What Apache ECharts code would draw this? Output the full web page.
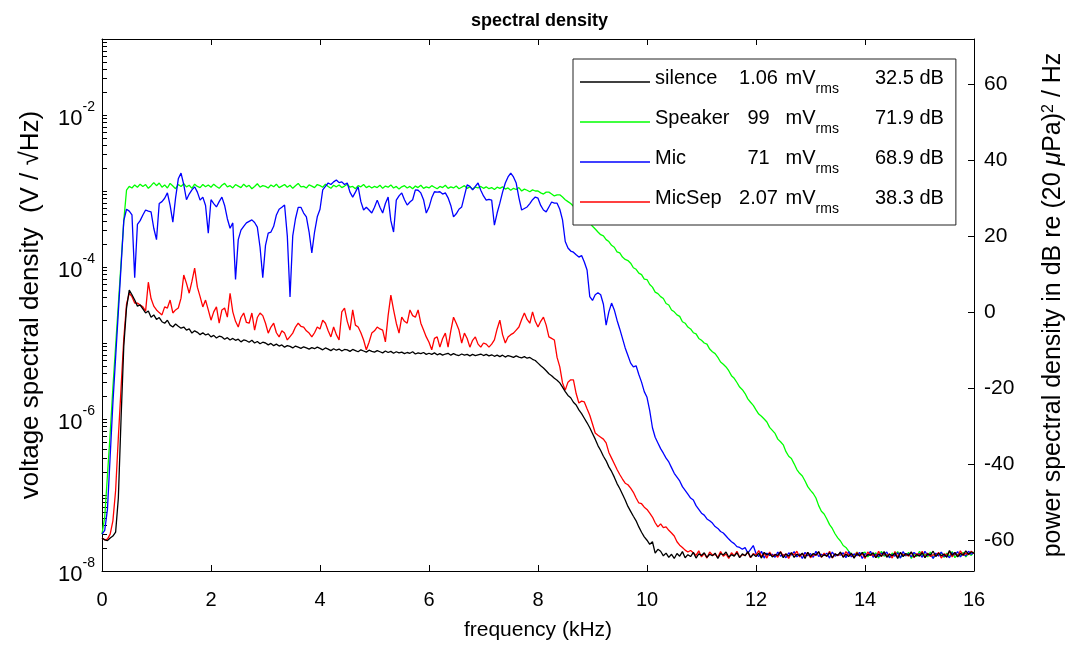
<!DOCTYPE html>
<html>
<head>
<meta charset="utf-8">
<script src="https://cdn.jsdelivr.net/npm/echarts@6/dist/echarts.min.js"></script>
<style>
html,body{margin:0;padding:0;background:#fff;}
#chart{width:1079px;height:648px;}
</style>
</head>
<body>
<div id="chart"></div>
<script>
// ---------------- data ----------------
const FREQ_STEP_KHZ = 0.05;               // spectrum sampled every 50 Hz, 0 .. 16 kHz
const freqTicksKHz = [0, 2, 4, 6, 8, 10, 12, 14, 16];
const dbTickLabels = [-60, -40, -20, 0, 20, 40, 60];
const voltTickLabels = [1e-8, 1e-6, 1e-4, 1e-2];
const legendNames = ['silence', 'Speaker', 'Mic', 'MicSep'];
const rmsMilliVolts = ['1.06', '99', '71', '2.07'];
const levelsDb = ['32.5', '71.9', '68.9', '38.3'];

// power spectral density, dB re (20 uPa)^2/Hz
const speakerDb = [
-58.5,-54,-43,-32,-20,-9,2,13,24,32,33,32.6,33.4,32.8,33.6,33,33.5,32.5,33.2,34,
33.2,33.9,32.8,33.4,32.6,33.8,33.1,32.4,33.5,33.0,33.7,32.9,33.3,32.5,33.6,33.0,32.7,33.5,32.9,33.4,
32.8,33.6,33.0,32.5,33.3,33.8,32.9,33.2,32.6,33.5,33.1,32.7,33.6,32.9,33.3,32.4,33.0,33.7,32.8,33.2,
33.0,32.6,33.4,32.9,33.6,32.7,33.1,33.5,32.8,33.3,32.5,33.2,33.8,32.9,33.0,32.6,33.4,33.1,32.7,33.5,
33.2,32.8,33.6,33.0,32.5,33.3,32.9,33.4,32.7,33.1,33.6,32.8,33.0,32.4,33.2,32.9,33.5,32.7,33.1,32.6,
33.0,32.7,33.3,32.5,33.1,32.8,33.4,32.6,33.0,32.3,32.9,33.2,32.6,33.0,32.4,33.1,32.7,33.3,32.5,32.9,
32.6,33.2,32.8,32.4,33.0,32.7,33.3,32.5,32.9,32.6,33.1,32.4,32.8,33.2,32.5,32.9,32.3,32.8,32.6,33.0,
32.5,32.9,32.4,32.7,32.2,32.8,32.5,32.9,32.3,32.6,32.0,32.5,32.2,32.7,31.8,32.3,32.0,31.6,32.1,31.8,
31.8,31.3,31.0,31.5,31.5,31.0,30.5,30.8,30.8,30.2,29.5,29.0,28.5,27.8,27.0,26.5,26.0,25.2,24.5,23.5,
22.5,21.8,21.0,20.3,20.0,19.0,18.5,17.5,17.0,15.8,15.5,14.4,13.8,13.5,12.8,11.6,11.2,10.2,9.8,8.6,
8.5,7.2,6.5,5.2,4.8,4.0,3.5,2.2,1.8,0.5,0.0,-0.8,-1.2,-2.6,-3.0,-4.0,-4.5,-5.5,-5.8,-7.0,
-7.5,-8.2,-8.5,-9.8,-10.5,-11.0,-12.0,-13.2,-13.8,-14.5,-15.5,-16.8,-17.5,-18.6,-19.8,-20.5,-21.5,-22.9,-23.8,-24.6,
-25.8,-26.9,-27.5,-28.2,-29.0,-30.4,-31.2,-32.0,-33.5,-34.2,-35.0,-36.8,-38.0,-38.6,-40.0,-41.5,-42.5,-43.2,-44.5,-46.0,
-47.0,-47.8,-49.0,-51.0,-52.5,-53.2,-54.5,-56.0,-57.0,-58.4,-59.5,-60.3,-61.5,-62.0,-63.0,-63.8,-64.5,-63.2,-64.0,-63.5,
-63.2,-64.5,-63.7,-64.1,-63.4,-64.8,-63.0,-64.3,-63.9,-64.6,
-63.5,-64.0,-63.1,-64.7,-63.8,-64.2,-63.3,-64.9,-63.6,-64.4,
-63.0,-64.1,-63.7,-64.5,-63.2,-64.8,-63.9,-64.0,-63.4,-64.6,
-63.5,-64.3,-63.1,-64.7,-63.8,-64.2,-63.3,-64.5,-63.6,-64.1,
-63.2
];

const micDb = [
-58.5,-57.5,-52,-38,-24,-12,0,12,24,27,26.5,25.5,9,23,24,25.5,26.8,26.5,26.3,22,
19,28.5,29,29.9,31.3,28,23.6,30,35,36.5,33.5,29.5,31,32.1,32.9,31.5,29.4,30.2,28,20.7,
29.5,28.5,27.6,29,30.2,28,24.5,22,23.4,8.5,19,21.5,22.5,23.4,23.8,24.2,23.5,22.3,17,9,
17.5,20.7,21,22.5,25.5,27,27.5,28.1,20,3.9,20,24.5,27.5,27.5,26,25,21,15.5,21,25,
27,32.1,33,33.9,33.5,34.2,34.7,34,34.2,33.5,33.9,31.5,30.2,31.5,32.9,29,26.8,27.5,26.8,26,
27.5,29.4,27.5,26,28.5,30.2,24,21,29.4,30.5,31.3,29.5,28.1,28.9,29.5,32.1,32,31.3,29.5,26,
27.5,30,31.6,31.5,31.6,31,31.3,30,28,25,25.8,27,27.6,30.5,33.4,33,32.1,33,33.9,32,
30.5,29.4,29.6,29.4,22.8,26,28.6,31.5,33.9,35.5,36.5,35.5,33.9,30,26.8,27.2,27.6,28.5,29.5,30.2,
29.9,28,26.8,26.3,27.6,28.9,28.6,28.6,27,24.2,18.5,16.8,16,15.7,15,14.4,14.8,13.1,11,4,
3,4.5,5,4.5,2,-3.5,0,2.3,0.5,-2.2,-4.5,-7,-9.5,-11.5,-13.5,-14.5,-14.2,-16.5,-18.5,-21,
-22.5,-26,-30.5,-33,-34.5,-36,-37.2,-38.5,-39.5,-41,-42.5,-43.5,-44.5,-46,-47,-48,-49,-49.5,-51,-52,
-53,-53.5,-54.5,-55,-55.6,-56.5,-57,-57.8,-58.2,-59,-59.8,-60.5,-61,-61.8,-62,-62.5,-62,-63.5,-62.5,-61.5,
-63.6,-64.4,-63.0,-64.8,-63.5,-64.1,-63.8,-64.6,-63.2,-64.3,
-63.9,-64.7,-63.4,-64.0,-63.1,-64.5,-63.7,-64.9,-63.3,-64.2,
-63.6,-64.6,-63.0,-64.4,-63.8,-64.1,-63.5,-64.8,-63.2,-64.3,
-63.9,-64.0,-63.4,-64.7,-63.1,-64.5,-63.7,-64.2,-63.3,-64.9,
-63.6,-64.1,-63.0,-64.6,-63.8,-64.4,-63.5,-64.0,-63.2,-64.7,
-63.9,-64.3,-63.4,-64.8,-63.1,-64.2,-63.7,-64.5,-63.3,-64.0,
-63.6,-64.6,-63.0,-64.1,-63.8,-64.9,-63.5,-64.3,-63.2,-64.4,
-63.9,-64.7,-63.4,-64.0,-63.1,-64.5,-63.7,-64.2,-63.0,-63.8,
-63.4
];

const micSepDb = [
-59.5,-60,-59.8,-58.5,-55,-47,-33,-20,-7,2,4.9,4.0,2.3,2.3,1.8,1.3,0.2,7.8,3.5,1.5,
0.5,-0.2,-0.8,1.3,1.0,3.1,-0.3,0.5,1.0,3.6,9.7,7.5,4.9,8.0,11.5,6.5,4.0,1.3,3.1,0.5,
-2.2,0.0,1.3,-3.0,0.5,1.0,-1.4,4.9,0.0,-2.5,-4.0,-1.5,-0.3,-2.8,-3.0,-0.3,-4.8,-1.5,-0.3,-1.0,
-3.0,-5.6,-4.0,-3.0,-5.5,-6.6,-5.0,-5.6,-7.4,-6.5,-5.6,-4.0,-3.0,-3.8,-4.0,-5.0,-5.6,-6.6,-5.5,-4.0,
-4.5,-2.2,-3.0,-5.0,-6.6,-4.0,-6.0,-7.4,0.0,1.0,-2.5,-4.8,0.5,-3.5,-4.0,-5.5,-7.4,-10.0,-8.0,-5.6,
-5.0,-4.0,-4.5,-4.8,-7.9,-1.0,4.4,0.5,-3.0,-5.6,-1.4,-2.5,-3.0,0.5,-1.0,-1.4,0.5,-3.0,-4.8,-6.6,
-8.0,-10.0,-7.0,-6.6,-9.3,-7.0,-5.6,-9.3,-5.0,-1.4,-3.0,-4.8,-8.2,-5.6,-7.0,-9.3,-7.5,-6.6,-8.5,-9.3,
-8.2,-8.5,-9.3,-8.5,-7.4,-4.5,-2.2,-6.0,-8.2,-6.6,-6.0,-5.6,-4.8,-4.0,-2.0,-0.3,-2.0,-3.0,0.0,-2.5,
-4.0,-2.5,-1.4,-3.5,-6.6,-7.0,-7.4,-12.0,-14.5,-18.7,-20.6,-18.5,-17.9,-17.9,-21.5,-24.0,-23.5,-23.7,-25.5,-27.2,
-29.5,-31.9,-32.5,-33.0,-33.5,-34.5,-37.0,-38.5,-40.0,-41.5,-42.8,-44.0,-45.1,-45.5,-46.4,-47.5,-49.0,-50.3,-50.5,-51.4,
-52.0,-53.0,-54.0,-55.5,-56.6,-55.8,-56.8,-56.6,-57.5,-58.2,-59.0,-60.5,-61.4,-62.0,-62.7,-63.2,-62.8,
-63.4,-64.1,-62.9,-64.5,-63.6,-64.8,-63.2,-64.0,-63.8,-64.6,
-63.1,-64.3,-63.7,-64.9,-63.4,-64.2,-63.0,-64.5,-63.9,-64.1,
-63.3,-64.7,-63.6,-64.0,-62.8,-64.4,-63.5,-64.8,-63.2,-64.3,
-63.8,-64.6,-63.1,-64.2,-63.7,-64.9,-63.4,-64.0,-63.0,-64.5,
-63.6,-64.3,-63.3,-64.7,-63.9,-64.1,-63.2,-64.6,-63.5,-64.4,
-63.0,-64.8,-63.7,-64.2,-63.4,-64.5,-63.1,-64.0,-63.8,-64.7,
-63.3,-64.3,-63.6,-64.9,-63.2,-64.1,-63.9,-64.6,-63.0,-64.4,
-63.5,-64.2,-63.7,-64.8,-63.1,-64.5,-63.4,-64.0,-63.8,-64.3,
-63.2,-64.7,-63.6,-64.1,-63.0,-64.6,-63.5,-64.4,-63.9,-64.2,
-63.3,-64.8,-63.7,-64.0,-63.1,-64.5,-63.4,-64.3,-62.9,-64.1,
-63.5,-63.9,-63.0,-63.6
];

const silenceDb = [
-59.5,-60.0,-60.2,-59.5,-59.0,-58.0,-49.0,-28.0,-9.0,1.0,5.7,4.5,3.1,1.5,1.8,0.8,-0.3,0.2,-1.4,-0.8,
-2.0,-1.5,-2.6,-3.0,-2.2,-3.5,-4.0,-3.2,-3.8,-4.3,-4.0,-4.8,-4.5,-5.6,-5.0,-5.4,-6.0,-5.5,-6.1,-5.8,
-6.6,-6.2,-6.9,-6.4,-6.6,-7.2,-6.8,-7.4,-7.0,-7.5,-7.2,-7.9,-7.4,-7.6,-8.0,-7.5,-8.2,-7.8,-8.4,-8.0,
-8.2,-8.7,-8.3,-8.9,-8.5,-9.0,-8.7,-9.3,-8.9,-9.1,-9.5,-9.0,-9.3,-9.6,-9.2,-9.5,-9.8,-9.4,-9.7,-9.3,
-9.6,-10.0,-9.5,-9.8,-10.2,-9.7,-10.1,-9.8,-10.3,-9.9,-10.0,-10.4,-9.9,-10.2,-10.5,-10.0,-10.3,-10.6,-10.1,-10.4,
-10.6,-10.2,-10.5,-10.8,-10.3,-10.7,-10.4,-10.9,-10.5,-10.8,-10.6,-11.0,-10.7,-10.9,-10.5,-11.1,-10.8,-11.0,-10.7,-11.2,
-10.9,-11.2,-10.8,-11.3,-11.0,-11.4,-11.1,-10.9,-11.4,-11.0,-11.3,-11.5,-11.1,-11.4,-11.2,-11.6,-11.2,-11.5,-11.3,-11.1,
-11.5,-11.2,-11.6,-11.3,-11.7,-11.4,-11.8,-11.4,-11.9,-11.5,-11.7,-12.0,-11.6,-11.9,-12.1,-11.8,-12.2,-12.0,-12.5,-12.8,
-13.5,-14.2,-14.8,-15.5,-16.3,-16.8,-17.5,-18.0,-18.7,-19.8,-21.0,-22.0,-22.6,-23.8,-24.5,-25.8,-26.8,-28.0,-29.2,-30.5,
-32.0,-33.5,-35.2,-36.5,-38.0,-39.2,-40.8,-42.0,-43.5,-45.2,-46.5,-48.0,-49.5,-51.2,-52.5,-53.8,-55.0,-56.6,-58.0,-59.2,
-60.1,-61.2,-60.5,-63.5,-62.5,
-63.0,-64.2,-63.5,-64.6,-63.8,-64.9,-63.6,-64.3,-63.1,-64.7,
-63.9,-64.4,-63.3,-64.8,-63.7,-64.1,-63.4,-64.6,-63.8,-64.2,
-63.5,-64.9,-63.6,-64.0,-63.2,-64.5,-63.9,-64.3,-63.4,-64.7,
-63.7,-64.2,-63.1,-64.6,-63.8,-64.4,-63.5,-64.8,-63.3,-64.0,
-63.6,-64.5,-63.9,-64.1,-63.2,-64.7,-63.7,-64.3,-63.4,-64.6,
-63.8,-64.2,-63.5,-64.9,-63.3,-64.4,-63.6,-64.0,-63.1,-64.5,
-63.9,-64.3,-63.4,-64.7,-63.7,-64.1,-63.2,-64.6,-63.8,-64.4,
-63.5,-64.8,-63.6,-64.2,-63.3,-64.5,-63.9,-64.0,-63.4,-64.7,
-63.7,-64.3,-63.1,-64.6,-63.8,-64.2,-63.5,-64.9,-63.3,-64.4,
-63.6,-64.1,-63.2,-64.5,-63.9,-64.3,-63.4,-64.7,-63.7,-64.0,
-63.0,-64.4,-63.5,-64.2,-63.8,-64.6,-62.8,-64.1,-63.3,-64.5,
-63.6,-64.0,-62.9,-63.8,-63.2,-63.5
];

// ---------------- chart ----------------
const FONT = '"Liberation Sans", Arial, Helvetica, sans-serif';
const toPairs = arr => arr.map((v, i) => [Math.round(i * FREQ_STEP_KHZ * 100) / 100, v]);

// log-axis ticks: 1..9 x 10^n
const logTicks = [];
for (let e = -8; e <= -2; e++) {
  for (let m = 1; m <= 9; m++) logTicks.push(m * Math.pow(10, e));
}
logTicks.push(1e-1);

const seriesDefs = [
  { name: 'Speaker', data: speakerDb, color: '#00ff00' },
  { name: 'Mic', data: micDb, color: '#0000ff' },
  { name: 'MicSep', data: micSepDb, color: '#ff0000' },
  { name: 'silence', data: silenceDb, color: '#000000' }
];

const chart = echarts.init(document.getElementById('chart'), null, { renderer: 'canvas' });

const option = {
  animation: false,
  backgroundColor: '#fff',
  textStyle: { fontFamily: FONT },
  title: {
    text: 'spectral density',
    left: 'center',
    top: 7,
    textStyle: { fontFamily: FONT, fontSize: 18, fontWeight: 'bold', color: '#000' }
  },
  grid: { left: 102, top: 39, width: 872, height: 532, containLabel: false },
  legend: {
    data: legendNames,
    orient: 'vertical',
    left: 573,
    top: 59,
    selectedMode: false,
    backgroundColor: '#fff',
    borderColor: '#222',
    borderWidth: 1,
    padding: [9, 12, 9, 7],
    itemGap: 12,
    itemWidth: 70,
    itemHeight: 14,
    itemStyle: { borderWidth: 0 },
    icon: 'path://M0,0 L70,0 L70,1.3 L0,1.3 Z',
    formatter: function (name) {
      const i = legendNames.indexOf(name);
      return '{n|' + name + '}{v|' + rmsMilliVolts[i] + '}{u| mV}{r|rms}{d|' + levelsDb[i] + ' dB}';
    },
    textStyle: {
      fontFamily: FONT,
      color: '#000',
      rich: {
        n: { fontFamily: FONT, fontSize: 20, color: '#000', width: 82, align: 'left', verticalAlign: 'top' },
        v: { fontFamily: FONT, fontSize: 20, color: '#000', width: 43, align: 'right', verticalAlign: 'top' },
        u: { fontFamily: FONT, fontSize: 20, color: '#000', verticalAlign: 'top' },
        r: { fontFamily: FONT, fontSize: 14, color: '#000', verticalAlign: 'bottom', lineHeight: 28 },
        d: { fontFamily: FONT, fontSize: 20, color: '#000', width: 105, align: 'right', verticalAlign: 'top' }
      }
    }
  },
  xAxis: [
    {
      type: 'value', min: 0, max: 16, interval: 2, position: 'bottom',
      axisLine: { show: true, onZero: false, lineStyle: { color: '#000', width: 1 } },
      axisTick: { show: true, inside: true, length: 6, lineStyle: { color: '#000' } },
      axisLabel: { fontFamily: FONT, fontSize: 20, color: '#000', margin: 19,
        customValues: freqTicksKHz },
      splitLine: { show: false },
      name: 'frequency (kHz)', nameLocation: 'middle', nameGap: 49,
      nameTextStyle: { fontFamily: FONT, fontSize: 21, color: '#000' }
    },
    {
      type: 'value', min: 0, max: 16, interval: 2, position: 'top',
      axisLine: { show: true, onZero: false, lineStyle: { color: '#000', width: 1 } },
      axisTick: { show: true, inside: true, length: 6, lineStyle: { color: '#000' } },
      axisLabel: { show: false },
      splitLine: { show: false }
    }
  ],
  yAxis: [
    {
      type: 'log', logBase: 10, min: 1e-8, max: 1e-1, position: 'left',
      axisLine: { show: true, lineStyle: { color: '#000', width: 1 } },
      axisTick: { show: true, inside: true, length: 5, customValues: logTicks, lineStyle: { color: '#000' } },
      minorTick: { show: false },
      axisLabel: {
        customValues: voltTickLabels,
        margin: 7,
        formatter: function (v) {
          return '{b|10}{s|' + Math.round(Math.log10(v)) + '}';
        },
        rich: {
          b: { fontFamily: FONT, fontSize: 22, color: '#000', verticalAlign: 'bottom', lineHeight: 30 },
          s: { fontFamily: FONT, fontSize: 14, color: '#000', verticalAlign: 'top', lineHeight: 14 }
        }
      },
      splitLine: { show: false },
      name: 'voltage spectral density  (V / √Hz)', nameLocation: 'middle', nameGap: 58, nameRotate: 90,
      nameTextStyle: { fontFamily: FONT, fontSize: 26, color: '#000' }
    },
    {
      type: 'value', min: -68.2, max: 71.8, position: 'right',
      axisLine: { show: true, onZero: false, lineStyle: { color: '#000', width: 1 } },
      axisTick: { show: true, inside: true, length: 6, customValues: dbTickLabels, lineStyle: { color: '#000' } },
      axisLabel: { customValues: dbTickLabels, fontFamily: FONT, fontSize: 21, color: '#000', margin: 10 },
      splitLine: { show: false },
      name: 'power spectral density in dB re (20 {i|μ}Pa){p|2} / Hz',
      nameLocation: 'middle', nameGap: 67, nameRotate: 90,
      nameTextStyle: {
        fontFamily: FONT, fontSize: 25, color: '#000',
        rich: {
          i: { fontFamily: FONT, fontSize: 25, fontStyle: 'italic', color: '#000' },
          p: { fontFamily: FONT, fontSize: 16, color: '#000', verticalAlign: 'top', lineHeight: 16 }
        }
      }
    }
  ],
  series: seriesDefs.map(s => ({
    name: s.name,
    type: 'line',
    xAxisIndex: 0,
    yAxisIndex: 1,
    data: toPairs(s.data),
    symbol: 'none',
    showSymbol: false,
    smooth: false,
    lineStyle: { color: s.color, width: 1.3 },
    itemStyle: { color: s.color },
    emphasis: { disabled: true },
    silent: true
  }))
};

chart.setOption(option);
</script>
</body>
</html>
